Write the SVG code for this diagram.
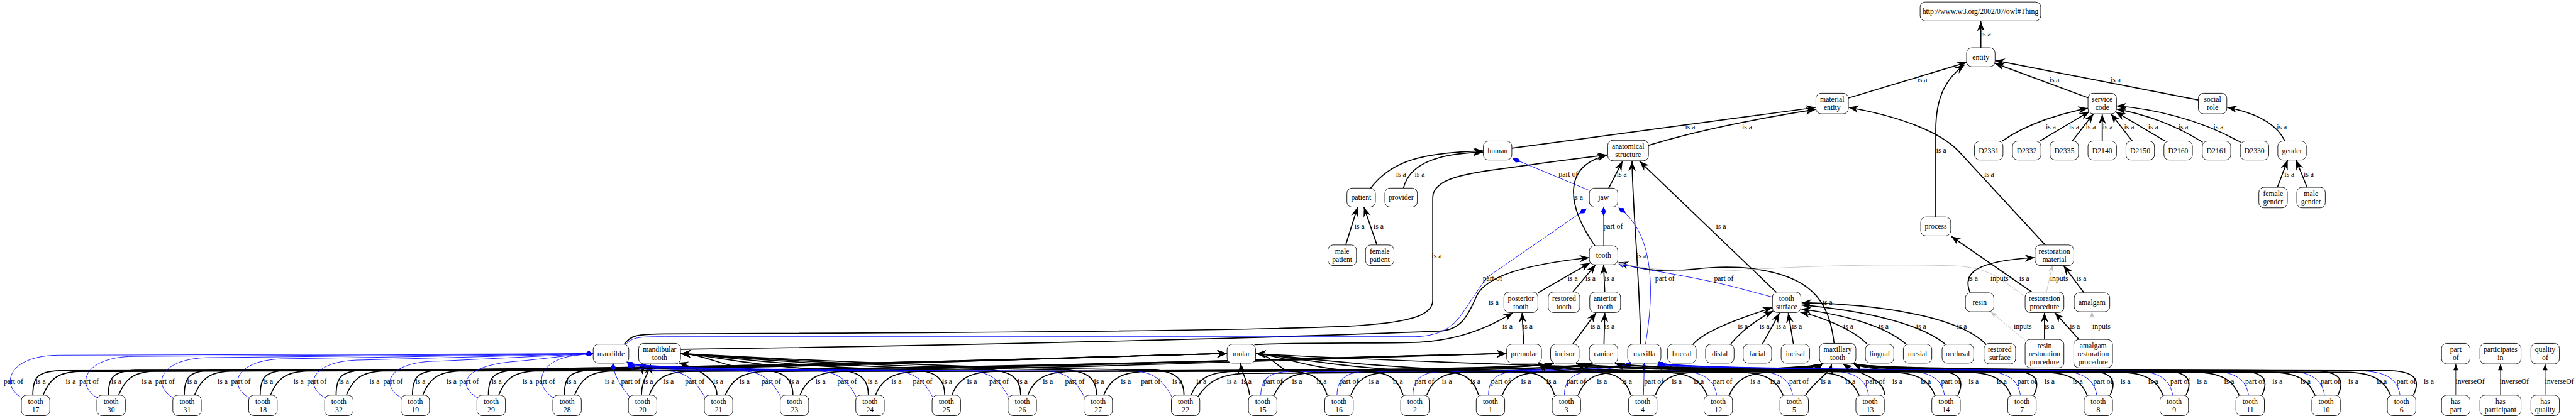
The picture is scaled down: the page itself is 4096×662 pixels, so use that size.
<svg xmlns="http://www.w3.org/2000/svg" width="4096" height="662" viewBox="0 0 4096 662">
<defs>
<style>
text{font-family:"Liberation Serif","Times New Roman",serif;font-size:18.67px;text-anchor:middle;fill:#000}
.nd rect{fill:#fff;stroke:#000;stroke-width:1.4}
.isa{fill:none;stroke:#000;stroke-width:2.7;marker-end:url(#vee)}
.po{fill:none;stroke:#00f;stroke-width:1.4;marker-end:url(#dia)}
.inp{fill:none;stroke:#c0c0c0;stroke-width:1.4;marker-end:url(#gvee)}
.inv{fill:none;stroke:#000;stroke-width:1.4;marker-end:url(#norm)}
</style>
<marker id="vee" viewBox="-27 -11 28 22" refX="0" refY="0" markerWidth="28" markerHeight="22" markerUnits="userSpaceOnUse" orient="auto"><path d="M0,0L-25,-9.5L-17,0L-25,9.5Z" fill="#000"/></marker>
<marker id="dia" viewBox="-23 -8 24 16" refX="0" refY="0" markerWidth="24" markerHeight="16" markerUnits="userSpaceOnUse" orient="auto"><path d="M0,0L-11,-6.5L-22,0L-11,6.5Z" fill="#00f"/></marker>
<marker id="gvee" viewBox="-18 -8 19 16" refX="0" refY="0" markerWidth="19" markerHeight="16" markerUnits="userSpaceOnUse" orient="auto"><path d="M0,0L-16,-6.5L-11,0L-16,6.5Z" fill="#c0c0c0"/></marker>
<marker id="norm" viewBox="-18 -8 19 16" refX="0" refY="0" markerWidth="19" markerHeight="16" markerUnits="userSpaceOnUse" orient="auto"><path d="M0,0L-16,-6L-16,6Z" fill="#000"/></marker>
</defs>
<rect width="4096" height="662" fill="#fff"/>
<g transform="scale(0.6288)">
<g id="connectors">
<path class="isa" d="M5009,121L5009,54"/>
<path class="isa" d="M4674,248L4973,158"/>
<path class="isa" d="M5282,248L5044,160"/>
<path class="isa" d="M5559,253L5045,153"/>
<path class="isa" d="M4895,549L4895,330C4895,240 4925,195 4968,164"/>
<path class="isa" d="M3823,375L4591,272"/>
<path class="isa" d="M4168,368Q4330,318 4591,277"/>
<path class="isa" d="M5172,620L4955,385C4905,330 4790,292 4675,272"/>
<path class="isa" d="M5063,357C5130,310 5220,285 5280,274"/>
<path class="isa" d="M5158,357L5284,282"/>
<path class="isa" d="M5240,357L5294,288"/>
<path class="isa" d="M5316,357L5316,289"/>
<path class="isa" d="M5392,357L5338,288"/>
<path class="isa" d="M5475,357L5350,283"/>
<path class="isa" d="M5570,360C5500,315 5420,288 5352,276"/>
<path class="isa" d="M5666,360C5560,300 5440,275 5352,268"/>
<path class="isa" d="M5778,357C5755,310 5700,285 5632,272"/>
<path class="isa" d="M5759,474L5785,405"/>
<path class="isa" d="M5834,474L5806,405"/>
<path class="isa" d="M3466,476C3520,405 3600,386 3751,382"/>
<path class="isa" d="M3549,476C3565,412 3640,388 3751,385"/>
<path class="isa" d="M3403,620L3433,524"/>
<path class="isa" d="M3482,620L3449,524"/>
<path class="isa" d="M4068,476L4103,408"/>
<path class="isa" d="M4033,622C3962,520 3950,420 4064,393"/>
<path class="isa" d="M4149,871C4146,700 4128,520 4127,408"/>
<path class="isa" d="M4491,739L4146,408"/>
<path class="isa" d="M1578,872C1595,848 1610,846 1680,845C2400,842 3100,838 3400,826C3560,818 3623,800 3623,760L3623,500C3623,440 3750,435 3900,413C3980,402 4030,396 4063,392"/>
<path class="isa" d="M1722,884C2300,876 3100,860 3640,838C3700,835 3715,790 3735,747C3760,700 3850,670 4019,652"/>
<path class="isa" d="M3889,741L4021,665"/>
<path class="isa" d="M3977,739L4035,670"/>
<path class="isa" d="M4058,739L4055,670"/>
<path class="isa" d="M4638,869C4625,760 4580,690 4400,677C4300,672 4260,690 4200,685C4150,682 4120,672 4093,664"/>
<path class="isa" d="M5138,739L4934,598"/>
<path class="isa" d="M4982,741C4960,690 5000,660 5145,652"/>
<path class="isa" d="M5270,741L5218,672"/>
<path class="isa" d="M3172,872C3300,866 3500,870 3590,866C3700,860 3780,820 3826,791"/>
<path class="isa" d="M3853,871L3849,791"/>
<path class="isa" d="M3977,871L4036,791"/>
<path class="isa" d="M4056,871L4058,791"/>
<path class="isa" d="M4282,870C4320,830 4420,800 4482,778"/>
<path class="isa" d="M4377,870C4410,830 4450,805 4484,787"/>
<path class="isa" d="M4457,870L4500,792"/>
<path class="isa" d="M4535,870L4522,792"/>
<path class="isa" d="M4721,870C4680,830 4600,800 4552,790"/>
<path class="isa" d="M4819,870C4760,820 4650,795 4555,782"/>
<path class="isa" d="M4918,870C4850,815 4700,785 4556,772"/>
<path class="isa" d="M5021,870C4950,800 4750,770 4556,766"/>
<path class="isa" d="M5170,859L5170,791"/>
<path class="isa" d="M5257,859L5196,791"/>
<path class="po" d="M4019,482L3825,401"/>
<path class="po" d="M4055,622L4055,524"/>
<path class="po" d="M4161,871C4190,700 4170,580 4093,526"/>
<path class="po" d="M1582,873C1598,853 1615,852 1680,852L3580,852C3650,850 3680,820 3700,790C3720,760 3740,730 3760,702L4012,528"/>
<path class="po" d="M4482,752L4400,730C4300,703 4200,690 4093,668"/>
<path class="inp" d="M5121,750C5060,710 5040,680 4950,673C4700,665 4450,680 4380,685C4250,690 4150,680 4093,666"/>
<path class="inp" d="M5175,739L5190,672"/>
<path class="inp" d="M5122,862L5035,790"/>
<path class="inp" d="M5290,859L5290,789"/>
<path class="inv" d="M6210,1000L6210,921"/>
<path class="inv" d="M6323,1000L6323,921"/>
<path class="inv" d="M6436,1000L6436,921"/>
<!-- tooth edges: mandibular left group -->
<path class="po" d="M54,1006C0,975 20,899 150,899L1500,895"/>
<path class="isa" d="M83,1000C83,955 95,940 150,938L1590,936Q1622,935 1632,921"/>
<path class="isa" d="M109,1000C125,960 145,942 200,940C2000,938 2850,898 3103,895"/>
<path class="po" d="M245,1006C191,975 211,902 341,902L1500,895"/>
<path class="isa" d="M274,1000C274,955 286,940 341,937L1590,936Q1622,935 1632,921"/>
<path class="isa" d="M300,1000C316,960 336,942 391,939C2000,937 2850,898 3103,895"/>
<path class="po" d="M437,1006C383,975 403,905 533,905L1500,895"/>
<path class="isa" d="M466,1000C466,955 478,940 533,937L1590,936Q1622,935 1632,921"/>
<path class="isa" d="M492,1000C508,960 528,942 583,939C2000,937 2850,898 3103,895"/>
<path class="po" d="M629,1006C575,975 595,908 725,908L1500,895"/>
<path class="isa" d="M658,1000C658,955 670,940 725,937L1590,935Q1622,934 1632,921"/>
<path class="isa" d="M684,1000C700,960 720,942 775,939C2000,937 2850,898 3103,895"/>
<path class="po" d="M821,1006C767,975 787,911 917,911L1500,895"/>
<path class="isa" d="M850,1000C850,955 862,940 917,937L1590,935Q1622,934 1632,921"/>
<path class="isa" d="M876,1000C892,960 912,942 967,939C2000,937 2850,898 3103,895"/>
<path class="po" d="M1014,1006C960,975 980,914 1110,914L1500,895"/>
<path class="isa" d="M1043,1000C1043,955 1055,940 1110,937L1590,935Q1622,934 1632,921"/>
<path class="isa" d="M1069,1000C1085,960 1105,942 1160,939C2000,937 2850,898 3103,895"/>
<path class="po" d="M1206,1006C1150,970 1180,925 1300,915C1380,908 1450,897 1500,895"/>
<path class="isa" d="M1235,1000C1235,955 1247,940 1302,937L1590,935Q1622,934 1632,921"/>
<path class="isa" d="M1261,1000C1277,960 1297,942 1352,939C2500,937 3550,898 3810,895"/>
<path class="po" d="M1398,1006C1345,970 1370,915 1440,902C1465,898 1485,896 1500,895"/>
<path class="isa" d="M1427,1000C1427,955 1439,940 1494,937L1590,935Q1622,934 1632,921"/>
<path class="isa" d="M1453,1000C1469,960 1489,942 1544,939C2500,937 3550,898 3810,895"/>
<!-- mandibular right group -->
<path class="po" d="M1592,1004C1568,975 1552,950 1550,919"/>
<path class="isa" d="M1622,1000C1622,962 1640,948 1645,921"/>
<path class="isa" d="M1642,1000C1655,962 1680,942 1735,940C2500,938 3500,900 3810,895"/>
<path class="po" d="M1782,1004C1760,968 1740,942 1690,939C1640,937 1600,934 1586,917"/>
<path class="isa" d="M1813,1000C1813,958 1760,930 1716,918"/>
<path class="isa" d="M1834,1000C1850,962 1875,942 1930,940C2700,938 3500,900 3810,895"/>
<path class="po" d="M1974,1004C1954,968 1934,942 1879,939C1732,938 1620,936 1586,917"/>
<path class="isa" d="M2005,1000C2005,960 1984,940 1929,936C1825,932 1790,897 1721,895"/>
<path class="isa" d="M2023,1000C2039,958 2069,942 2129,940C3029,938 3869,938 3929,919"/>
<path class="po" d="M2165,1004C2145,968 2125,942 2070,939C1828,938 1620,936 1586,917"/>
<path class="isa" d="M2196,1000C2196,960 2175,940 2120,936C1920,932 1790,897 1721,895"/>
<path class="isa" d="M2214,1000C2230,958 2260,942 2320,940C3125,938 3869,938 3929,919"/>
<path class="po" d="M2358,1004C2338,968 2318,942 2263,939C1925,938 1620,936 1586,917"/>
<path class="isa" d="M2389,1000C2389,960 2368,940 2313,936C2017,932 1790,897 1721,895"/>
<path class="isa" d="M2407,1000C2423,958 2453,942 2513,940C3221,938 3869,938 3929,919"/>
<path class="po" d="M2550,1004C2530,968 2510,942 2455,939C2020,938 1620,936 1586,917"/>
<path class="isa" d="M2581,1000C2581,960 2560,940 2505,936C2113,932 1790,897 1721,895"/>
<path class="isa" d="M2599,1000C2615,958 2645,942 2705,940C3317,938 3869,938 3929,919"/>
<path class="po" d="M2742,1004C2722,968 2702,942 2647,939C2116,938 1620,936 1586,917"/>
<path class="isa" d="M2773,1000C2773,960 2752,940 2697,936C2209,932 1790,897 1721,895"/>
<path class="isa" d="M2791,1000C2807,958 2837,942 2897,940C3462,938 3967,938 4027,919"/>
<path class="po" d="M2963,1004C2943,968 2923,942 2868,939C2227,938 1620,936 1586,917"/>
<path class="isa" d="M2994,1000C2994,960 2973,940 2918,936C2320,932 1790,897 1721,895"/>
<path class="isa" d="M3012,1000C3028,958 3058,942 3118,940C3572,938 3967,938 4027,919"/>
<path class="isa" d="M3030,1003C3055,965 3085,948 3145,945C3600,943 3970,942 4027,919"/>
<!-- maxillary group -->
<path class="isa" d="M3160,1000C3155,962 3140,945 3137,919"/>
<path class="po" d="M3188,1000C3190,962 3205,944 3250,941C3700,939 4090,940 4126,917"/>
<path class="isa" d="M3222,1000C3240,960 3265,945 3320,943C4000,941 4570,941 4609,920"/>
<path class="isa" d="M3356,1000C3344,960 3321,942 3266,940C3235,939 3215,897 3176,895"/>
<path class="po" d="M3381,1000C3381,962 3401,943 3446,941C3786,939 4095,940 4126,917"/>
<path class="isa" d="M3416,1000C3431,960 3456,944 3511,942C4060,940 4575,941 4609,920"/>
<path class="isa" d="M3548,1000C3536,960 3513,942 3458,940C3316,938 3230,897 3176,895"/>
<path class="po" d="M3573,1000C3573,962 3593,943 3638,941C3882,939 4095,940 4126,917"/>
<path class="isa" d="M3608,1000C3623,960 3648,944 3703,942C4156,940 4575,941 4609,920"/>
<path class="isa" d="M3739,1000C3727,960 3704,942 3649,940C3412,938 3230,897 3176,895"/>
<path class="po" d="M3764,1000C3764,962 3784,943 3829,941C3977,939 4095,940 4126,917"/>
<path class="isa" d="M3799,1000C3814,960 3839,944 3894,942C4251,940 4575,941 4609,920"/>
<path class="isa" d="M3931,1000C3919,960 3896,942 3841,940C3508,938 3230,897 3176,895"/>
<path class="po" d="M3956,1000C3956,962 3976,943 4021,941C4070,940 4105,938 4126,917"/>
<path class="isa" d="M3991,1000C4006,960 4031,944 4086,942C4347,940 4575,941 4609,920"/>
<path class="isa" d="M4124,1000C4112,962 4090,944 4040,942C3970,940 3915,940 3890,919"/>
<path class="po" d="M4156,1000L4158,919"/>
<path class="isa" d="M4186,1000C4200,960 4230,944 4285,942C4450,940 4575,941 4609,920"/>
<path class="isa" d="M4317,1000C4300,960 4270,944 4210,942C4050,940 3925,940 3890,919"/>
<path class="po" d="M4341,1000C4335,962 4310,942 4250,939C4220,938 4200,934 4192,917"/>
<path class="isa" d="M4373,1000C4390,960 4420,944 4475,942C4540,940 4590,940 4609,920"/>
<path class="isa" d="M4509,1000C4492,960 4462,944 4402,942C4146,940 3925,940 3890,919"/>
<path class="po" d="M4533,1000C4527,962 4502,942 4442,939C4317,938 4225,936 4192,917"/>
<path class="isa" d="M4566,1000C4590,962 4625,948 4632,921"/>
<path class="isa" d="M4701,1000C4684,960 4654,944 4594,942C4242,940 3925,940 3890,919"/>
<path class="po" d="M4725,1000C4719,962 4694,942 4634,939C4413,938 4225,936 4192,917"/>
<path class="isa" d="M4765,1000C4768,958 4700,946 4660,921"/>
<path class="isa" d="M4893,1000C4876,960 4846,944 4786,942C4000,938 3260,900 3176,895"/>
<path class="po" d="M4917,1000C4911,962 4886,942 4826,939C4509,938 4225,936 4192,917"/>
<path class="isa" d="M4951,1000C4971,958 4951,940 4891,938C4790,937 4718,936 4686,920"/>
<path class="isa" d="M5085,1000C5068,960 5038,944 4978,942C4482,940 4031,938 3986,919"/>
<path class="po" d="M5109,1000C5103,962 5078,942 5018,939C4605,937 4225,936 4192,917"/>
<path class="isa" d="M5143,1000C5163,958 5143,940 5083,938C4885,937 4720,936 4686,920"/>
<path class="isa" d="M5278,1000C5261,960 5231,944 5171,942C4578,940 4031,938 3986,919"/>
<path class="po" d="M5302,1000C5296,962 5271,942 5211,939C4701,937 4225,936 4192,917"/>
<path class="isa" d="M5336,1000C5356,958 5336,940 5276,938C4981,937 4720,936 4686,920"/>
<path class="isa" d="M5470,1000C5453,960 5423,944 5363,942C4674,940 4031,938 3986,919"/>
<path class="po" d="M5494,1000C5488,962 5463,942 5403,939C4797,937 4225,936 4192,917"/>
<path class="isa" d="M5528,1000C5548,958 5528,940 5468,938C5077,937 4720,936 4686,920"/>
<path class="isa" d="M5662,1000C5645,960 5615,944 5555,942C4820,940 4129,938 4084,919"/>
<path class="po" d="M5686,1000C5680,962 5655,942 5595,939C4893,937 4225,936 4192,917"/>
<path class="isa" d="M5720,1000C5740,958 5720,940 5660,938C5173,937 4720,936 4686,920"/>
<path class="isa" d="M5854,1000C5837,960 5807,944 5747,942C4866,940 4031,938 3986,919"/>
<path class="po" d="M5878,1000C5872,962 5847,942 5787,939C4989,937 4225,936 4192,917"/>
<path class="isa" d="M5912,1000C5932,958 5912,940 5852,938C5269,937 4720,936 4686,920"/>
<path class="isa" d="M6045,1000C6028,960 5998,944 5938,942C5011,940 4129,938 4084,919"/>
<path class="po" d="M6069,1000C6063,962 6038,942 5978,939C5085,937 4225,936 4192,917"/>
<path class="isa" d="M6103,1000C6123,958 6103,940 6043,938C5365,937 4720,936 4686,920"/>
<g id="edge-labels">
<text x="5022" y="93">is a</text>
<text x="4861" y="209">is a</text><text x="5195" y="209">is a</text><text x="5350" y="209">is a</text>
<text x="4274" y="328">is a</text><text x="4418" y="328">is a</text><text x="5186" y="328">is a</text><text x="5245" y="328">is a</text><text x="5287" y="328">is a</text><text x="5330" y="328">is a</text><text x="5384" y="328">is a</text><text x="5445" y="328">is a</text><text x="5521" y="328">is a</text><text x="5610" y="328">is a</text><text x="5770" y="328">is a</text>
<text x="4909" y="386">is a</text>
<text x="3543" y="447">is a</text><text x="3590" y="447">is a</text><text x="3966" y="447">part of</text><text x="4101" y="447">is a</text><text x="5030" y="447">is a</text><text x="5789" y="447">is a</text><text x="5838" y="447">is a</text>
<text x="3990" y="506">is a</text>
<text x="3438" y="579">is a</text><text x="3486" y="579">is a</text><text x="4079" y="579">part of</text><text x="4352" y="579">is a</text>
<text x="3633" y="653">is a</text><text x="4151" y="653">is a</text>
<text x="3774" y="711">part of</text><text x="3977" y="711">is a</text><text x="4022" y="711">is a</text><text x="4070" y="711">is a</text><text x="4210" y="711">part of</text><text x="4359" y="711">part of</text><text x="4989" y="711">is a</text><text x="5056" y="711">inputs</text><text x="5119" y="711">is a</text><text x="5207" y="711">inputs</text><text x="5263" y="711">is a</text>
<text x="3777" y="771">is a</text><text x="4621" y="771">is a</text>
<text x="3812" y="831">is a</text><text x="3863" y="831">is a</text><text x="4034" y="831">is a</text><text x="4070" y="831">is a</text><text x="4407" y="831">is a</text><text x="4462" y="831">is a</text><text x="4504" y="831">is a</text><text x="4544" y="831">is a</text><text x="4674" y="831">is a</text><text x="4763" y="831">is a</text><text x="4858" y="831">is a</text><text x="4961" y="831">is a</text><text x="5115" y="831">inputs</text><text x="5182" y="831">is a</text><text x="5247" y="831">is a</text><text x="5314" y="831">inputs</text>
<text x="34" y="971">part of</text><text x="103" y="971">is a</text><text x="179" y="971">is a</text>
<text x="225" y="971">part of</text><text x="294" y="971">is a</text><text x="371" y="971">is a</text>
<text x="417" y="971">part of</text><text x="486" y="971">is a</text><text x="563" y="971">is a</text>
<text x="609" y="971">part of</text><text x="678" y="971">is a</text><text x="755" y="971">is a</text>
<text x="801" y="971">part of</text><text x="870" y="971">is a</text><text x="947" y="971">is a</text>
<text x="994" y="971">part of</text><text x="1063" y="971">is a</text><text x="1142" y="971">is a</text>
<text x="1186" y="971">part of</text><text x="1256" y="971">is a</text><text x="1334" y="971">is a</text>
<text x="1379" y="971">part of</text><text x="1445" y="971">is a</text><text x="1542" y="971">is a</text>
<text x="1595" y="971">part of</text><text x="1639" y="971">is a</text><text x="1691" y="971">is a</text>
<text x="1757" y="971">part of</text><text x="1816" y="971">is a</text><text x="1883" y="971">is a</text>
<text x="1950" y="971">part of</text><text x="2008" y="971">is a</text><text x="2075" y="971">is a</text>
<text x="2142" y="971">part of</text><text x="2207" y="971">is a</text><text x="2267" y="971">is a</text>
<text x="2333" y="971">part of</text><text x="2395" y="971">is a</text><text x="2458" y="971">is a</text>
<text x="2526" y="971">part of</text><text x="2586" y="971">is a</text><text x="2650" y="971">is a</text>
<text x="2718" y="971">part of</text><text x="2779" y="971">is a</text><text x="2847" y="971">is a</text>
<text x="2910" y="971">part of</text><text x="2977" y="971">is a</text><text x="3038" y="971">is a</text><text x="3115" y="971">is a</text>
<text x="3152" y="971">is a</text><text x="3219" y="971">part of</text><text x="3280" y="971">is a</text>
<text x="3342" y="971">is a</text><text x="3411" y="971">part of</text><text x="3474" y="971">is a</text>
<text x="3535" y="971">is a</text><text x="3602" y="971">part of</text><text x="3659" y="971">is a</text>
<text x="3731" y="971">is a</text><text x="3795" y="971">part of</text><text x="3859" y="971">is a</text>
<text x="3923" y="971">is a</text><text x="3986" y="971">part of</text><text x="4051" y="971">is a</text>
<text x="4114" y="971">is a</text><text x="4182" y="971">part of</text><text x="4240" y="971">is a</text>
<text x="4296" y="971">is a</text><text x="4356" y="971">part of</text><text x="4439" y="971">is a</text>
<text x="4489" y="971">is a</text><text x="4549" y="971">part of</text><text x="4617" y="971">is a</text>
<text x="4679" y="971">is a</text><text x="4742" y="971">part of</text><text x="4798" y="971">is a</text>
<text x="4870" y="971">is a</text><text x="4933" y="971">part of</text><text x="4991" y="971">is a</text>
<text x="5062" y="971">is a</text><text x="5126" y="971">part of</text><text x="5183" y="971">is a</text>
<text x="5254" y="971">is a</text><text x="5318" y="971">part of</text><text x="5375" y="971">is a</text>
<text x="5445" y="971">is a</text><text x="5513" y="971">part of</text><text x="5568" y="971">is a</text>
<text x="5637" y="971">is a</text><text x="5702" y="971">part of</text><text x="5759" y="971">is a</text>
<text x="5830" y="971">is a</text><text x="5893" y="971">part of</text><text x="5951" y="971">is a</text>
<text x="6023" y="971">is a</text><text x="6085" y="971">part of</text><text x="6142" y="971">is a</text>
<text x="6246" y="971">inverseOf</text><text x="6358" y="971">inverseOf</text><text x="6472" y="971">inverseOf</text>
</g>
</g>
<g id="nodes">
<g id="thing" class="nd"><rect x="4855.5" y="5" width="305" height="48" rx="13"/><text x="5008" y="35.5">http://www.w3.org/2002/07/owl#Thing</text></g>
<g id="entity" class="nd"><rect x="4973" y="121" width="72" height="48" rx="13"/><text x="5009" y="151.5">entity</text></g>
<g id="material-entity" class="nd"><rect x="4592" y="236" width="82" height="52" rx="13"/><text x="4633" y="258">material</text><text x="4633" y="279">entity</text></g>
<g id="service-code" class="nd"><rect x="5280" y="236" width="72" height="52" rx="13"/><text x="5316" y="258">service</text><text x="5316" y="279">code</text></g>
<g id="social-role" class="nd"><rect x="5559" y="236" width="72" height="52" rx="13"/><text x="5595" y="258">social</text><text x="5595" y="279">role</text></g>
<g id="human" class="nd"><rect x="3751" y="357" width="72" height="48" rx="13"/><text x="3787" y="387.5">human</text></g>
<g id="anatomical-structure" class="nd"><rect x="4065.5" y="355" width="103" height="52" rx="13"/><text x="4117" y="377">anatomical</text><text x="4117" y="398">structure</text></g>
<g id="D2331" class="nd"><rect x="4993" y="357" width="72" height="48" rx="13"/><text x="5029" y="387.5">D2331</text></g>
<g id="D2332" class="nd"><rect x="5089" y="357" width="72" height="48" rx="13"/><text x="5125" y="387.5">D2332</text></g>
<g id="D2335" class="nd"><rect x="5184" y="357" width="72" height="48" rx="13"/><text x="5220" y="387.5">D2335</text></g>
<g id="D2140" class="nd"><rect x="5280" y="357" width="72" height="48" rx="13"/><text x="5316" y="387.5">D2140</text></g>
<g id="D2150" class="nd"><rect x="5376" y="357" width="72" height="48" rx="13"/><text x="5412" y="387.5">D2150</text></g>
<g id="D2160" class="nd"><rect x="5472" y="357" width="72" height="48" rx="13"/><text x="5508" y="387.5">D2160</text></g>
<g id="D2161" class="nd"><rect x="5569" y="357" width="72" height="48" rx="13"/><text x="5605" y="387.5">D2161</text></g>
<g id="D2330" class="nd"><rect x="5665" y="357" width="72" height="48" rx="13"/><text x="5701" y="387.5">D2330</text></g>
<g id="gender" class="nd"><rect x="5760" y="357" width="72" height="48" rx="13"/><text x="5796" y="387.5">gender</text></g>
<g id="patient" class="nd"><rect x="3406" y="476" width="72" height="48" rx="13"/><text x="3442" y="506.5">patient</text></g>
<g id="provider" class="nd"><rect x="3502" y="476" width="82" height="48" rx="13"/><text x="3543" y="506.5">provider</text></g>
<g id="jaw" class="nd"><rect x="4019" y="476" width="72" height="48" rx="13"/><text x="4055" y="506.5">jaw</text></g>
<g id="female-gender" class="nd"><rect x="5712" y="474" width="72" height="52" rx="13"/><text x="5748" y="496">female</text><text x="5748" y="517">gender</text></g>
<g id="male-gender" class="nd"><rect x="5808" y="474" width="72" height="52" rx="13"/><text x="5844" y="496">male</text><text x="5844" y="517">gender</text></g>
<g id="process" class="nd"><rect x="4857" y="549" width="76" height="48" rx="13"/><text x="4895" y="579.5">process</text></g>
<g id="male-patient" class="nd"><rect x="3358" y="620" width="72" height="52" rx="13"/><text x="3394" y="642">male</text><text x="3394" y="663">patient</text></g>
<g id="female-patient" class="nd"><rect x="3453" y="620" width="72" height="52" rx="13"/><text x="3489" y="642">female</text><text x="3489" y="663">patient</text></g>
<g id="tooth" class="nd"><rect x="4019" y="622" width="72" height="48" rx="13"/><text x="4055" y="652.5">tooth</text></g>
<g id="restoration-material" class="nd"><rect x="5146" y="620" width="98" height="52" rx="13"/><text x="5195" y="642">restoration</text><text x="5195" y="663">material</text></g>
<g id="posterior-tooth" class="nd"><rect x="3803" y="739" width="86" height="52" rx="13"/><text x="3846" y="761">posterior</text><text x="3846" y="782">tooth</text></g>
<g id="restored-tooth" class="nd"><rect x="3915" y="739" width="80" height="52" rx="13"/><text x="3955" y="761">restored</text><text x="3955" y="782">tooth</text></g>
<g id="anterior-tooth" class="nd"><rect x="4020" y="739" width="78" height="52" rx="13"/><text x="4059" y="761">anterior</text><text x="4059" y="782">tooth</text></g>
<g id="tooth-surface" class="nd"><rect x="4482" y="739" width="72" height="52" rx="13"/><text x="4518" y="761">tooth</text><text x="4518" y="782">surface</text></g>
<g id="resin" class="nd"><rect x="4970" y="741" width="72" height="48" rx="13"/><text x="5006" y="771.5">resin</text></g>
<g id="restoration-procedure" class="nd"><rect x="5121" y="739" width="98" height="52" rx="13"/><text x="5170" y="761">restoration</text><text x="5170" y="782">procedure</text></g>
<g id="amalgam" class="nd"><rect x="5245" y="741" width="90" height="48" rx="13"/><text x="5290" y="771.5">amalgam</text></g>
<g id="mandible" class="nd"><rect x="1500" y="871" width="90" height="48" rx="13"/><text x="1545" y="901.5">mandible</text></g>
<g id="mandibular-tooth" class="nd"><rect x="1615" y="869" width="106" height="52" rx="13"/><text x="1668" y="891">mandibular</text><text x="1668" y="912">tooth</text></g>
<g id="molar" class="nd"><rect x="3103" y="871" width="72" height="48" rx="13"/><text x="3139" y="901.5">molar</text></g>
<g id="premolar" class="nd"><rect x="3810" y="871" width="88" height="48" rx="13"/><text x="3854" y="901.5">premolar</text></g>
<g id="incisor" class="nd"><rect x="3921" y="871" width="72" height="48" rx="13"/><text x="3957" y="901.5">incisor</text></g>
<g id="canine" class="nd"><rect x="4019" y="871" width="72" height="48" rx="13"/><text x="4055" y="901.5">canine</text></g>
<g id="maxilla" class="nd"><rect x="4116" y="871" width="84" height="48" rx="13"/><text x="4158" y="901.5">maxilla</text></g>
<g id="buccal" class="nd"><rect x="4217" y="871" width="72" height="48" rx="13"/><text x="4253" y="901.5">buccal</text></g>
<g id="distal" class="nd"><rect x="4313" y="871" width="72" height="48" rx="13"/><text x="4349" y="901.5">distal</text></g>
<g id="facial" class="nd"><rect x="4408" y="871" width="72" height="48" rx="13"/><text x="4444" y="901.5">facial</text></g>
<g id="incisal" class="nd"><rect x="4504" y="871" width="72" height="48" rx="13"/><text x="4540" y="901.5">incisal</text></g>
<g id="maxillary-tooth" class="nd"><rect x="4601" y="869" width="92" height="52" rx="13"/><text x="4647" y="891">maxillary</text><text x="4647" y="912">tooth</text></g>
<g id="lingual" class="nd"><rect x="4717" y="871" width="72" height="48" rx="13"/><text x="4753" y="901.5">lingual</text></g>
<g id="mesial" class="nd"><rect x="4813" y="871" width="72" height="48" rx="13"/><text x="4849" y="901.5">mesial</text></g>
<g id="occlusal" class="nd"><rect x="4911" y="871" width="80" height="48" rx="13"/><text x="4951" y="901.5">occlusal</text></g>
<g id="restored-surface" class="nd"><rect x="5017" y="869" width="80" height="52" rx="13"/><text x="5057" y="891">restored</text><text x="5057" y="912">surface</text></g>
<g id="resin-restoration-procedure" class="nd"><rect x="5121" y="859" width="98" height="72" rx="13"/><text x="5170" y="880.5">resin</text><text x="5170" y="901.5">restoration</text><text x="5170" y="922.5">procedure</text></g>
<g id="amalgam-restoration-procedure" class="nd"><rect x="5244" y="859" width="98" height="72" rx="13"/><text x="5293" y="880.5">amalgam</text><text x="5293" y="901.5">restoration</text><text x="5293" y="922.5">procedure</text></g>
<g id="part-of" class="nd"><rect x="6174" y="869" width="72" height="52" rx="13"/><text x="6210" y="891">part</text><text x="6210" y="912">of</text></g>
<g id="participates-in" class="nd"><rect x="6271" y="869" width="104" height="52" rx="13"/><text x="6323" y="891">participates</text><text x="6323" y="912">in</text></g>
<g id="quality-of" class="nd"><rect x="6400" y="869" width="72" height="52" rx="13"/><text x="6436" y="891">quality</text><text x="6436" y="912">of</text></g>
<g id="has-part" class="nd"><rect x="6174" y="1000" width="72" height="52" rx="13"/><text x="6210" y="1022">has</text><text x="6210" y="1043">part</text></g>
<g id="has-participant" class="nd"><rect x="6271" y="1000" width="104" height="52" rx="13"/><text x="6323" y="1022">has</text><text x="6323" y="1043">participant</text></g>
<g id="has-quality" class="nd"><rect x="6400" y="1000" width="72" height="52" rx="13"/><text x="6436" y="1022">has</text><text x="6436" y="1043">quality</text></g>
<g id="tooth17" class="nd"><rect x="54" y="1000" width="72" height="52" rx="13"/><text x="90" y="1022">tooth</text><text x="90" y="1043">17</text></g>
<g id="tooth30" class="nd"><rect x="245" y="1000" width="72" height="52" rx="13"/><text x="281" y="1022">tooth</text><text x="281" y="1043">30</text></g>
<g id="tooth31" class="nd"><rect x="437" y="1000" width="72" height="52" rx="13"/><text x="473" y="1022">tooth</text><text x="473" y="1043">31</text></g>
<g id="tooth18" class="nd"><rect x="629" y="1000" width="72" height="52" rx="13"/><text x="665" y="1022">tooth</text><text x="665" y="1043">18</text></g>
<g id="tooth32" class="nd"><rect x="821" y="1000" width="72" height="52" rx="13"/><text x="857" y="1022">tooth</text><text x="857" y="1043">32</text></g>
<g id="tooth19" class="nd"><rect x="1014" y="1000" width="72" height="52" rx="13"/><text x="1050" y="1022">tooth</text><text x="1050" y="1043">19</text></g>
<g id="tooth29" class="nd"><rect x="1206" y="1000" width="72" height="52" rx="13"/><text x="1242" y="1022">tooth</text><text x="1242" y="1043">29</text></g>
<g id="tooth28" class="nd"><rect x="1398" y="1000" width="72" height="52" rx="13"/><text x="1434" y="1022">tooth</text><text x="1434" y="1043">28</text></g>
<g id="tooth20" class="nd"><rect x="1589" y="1000" width="72" height="52" rx="13"/><text x="1625" y="1022">tooth</text><text x="1625" y="1043">20</text></g>
<g id="tooth21" class="nd"><rect x="1781" y="1000" width="72" height="52" rx="13"/><text x="1817" y="1022">tooth</text><text x="1817" y="1043">21</text></g>
<g id="tooth23" class="nd"><rect x="1973" y="1000" width="72" height="52" rx="13"/><text x="2009" y="1022">tooth</text><text x="2009" y="1043">23</text></g>
<g id="tooth24" class="nd"><rect x="2164" y="1000" width="72" height="52" rx="13"/><text x="2200" y="1022">tooth</text><text x="2200" y="1043">24</text></g>
<g id="tooth25" class="nd"><rect x="2357" y="1000" width="72" height="52" rx="13"/><text x="2393" y="1022">tooth</text><text x="2393" y="1043">25</text></g>
<g id="tooth26" class="nd"><rect x="2549" y="1000" width="72" height="52" rx="13"/><text x="2585" y="1022">tooth</text><text x="2585" y="1043">26</text></g>
<g id="tooth27" class="nd"><rect x="2741" y="1000" width="72" height="52" rx="13"/><text x="2777" y="1022">tooth</text><text x="2777" y="1043">27</text></g>
<g id="tooth22" class="nd"><rect x="2962" y="1000" width="72" height="52" rx="13"/><text x="2998" y="1022">tooth</text><text x="2998" y="1043">22</text></g>
<g id="tooth15" class="nd"><rect x="3157" y="1000" width="72" height="52" rx="13"/><text x="3193" y="1022">tooth</text><text x="3193" y="1043">15</text></g>
<g id="tooth16" class="nd"><rect x="3350" y="1000" width="72" height="52" rx="13"/><text x="3386" y="1022">tooth</text><text x="3386" y="1043">16</text></g>
<g id="tooth2" class="nd"><rect x="3542" y="1000" width="72" height="52" rx="13"/><text x="3578" y="1022">tooth</text><text x="3578" y="1043">2</text></g>
<g id="tooth1" class="nd"><rect x="3733" y="1000" width="72" height="52" rx="13"/><text x="3769" y="1022">tooth</text><text x="3769" y="1043">1</text></g>
<g id="tooth3" class="nd"><rect x="3925" y="1000" width="72" height="52" rx="13"/><text x="3961" y="1022">tooth</text><text x="3961" y="1043">3</text></g>
<g id="tooth4" class="nd"><rect x="4118" y="1000" width="72" height="52" rx="13"/><text x="4154" y="1022">tooth</text><text x="4154" y="1043">4</text></g>
<g id="tooth12" class="nd"><rect x="4309" y="1000" width="72" height="52" rx="13"/><text x="4345" y="1022">tooth</text><text x="4345" y="1043">12</text></g>
<g id="tooth5" class="nd"><rect x="4501" y="1000" width="72" height="52" rx="13"/><text x="4537" y="1022">tooth</text><text x="4537" y="1043">5</text></g>
<g id="tooth13" class="nd"><rect x="4693" y="1000" width="72" height="52" rx="13"/><text x="4729" y="1022">tooth</text><text x="4729" y="1043">13</text></g>
<g id="tooth14" class="nd"><rect x="4885" y="1000" width="72" height="52" rx="13"/><text x="4921" y="1022">tooth</text><text x="4921" y="1043">14</text></g>
<g id="tooth7" class="nd"><rect x="5077" y="1000" width="72" height="52" rx="13"/><text x="5113" y="1022">tooth</text><text x="5113" y="1043">7</text></g>
<g id="tooth8" class="nd"><rect x="5270" y="1000" width="72" height="52" rx="13"/><text x="5306" y="1022">tooth</text><text x="5306" y="1043">8</text></g>
<g id="tooth9" class="nd"><rect x="5462" y="1000" width="72" height="52" rx="13"/><text x="5498" y="1022">tooth</text><text x="5498" y="1043">9</text></g>
<g id="tooth11" class="nd"><rect x="5654" y="1000" width="72" height="52" rx="13"/><text x="5690" y="1022">tooth</text><text x="5690" y="1043">11</text></g>
<g id="tooth10" class="nd"><rect x="5846" y="1000" width="72" height="52" rx="13"/><text x="5882" y="1022">tooth</text><text x="5882" y="1043">10</text></g>
<g id="tooth6" class="nd"><rect x="6037" y="1000" width="72" height="52" rx="13"/><text x="6073" y="1022">tooth</text><text x="6073" y="1043">6</text></g>
</g>
</g>
</svg>
